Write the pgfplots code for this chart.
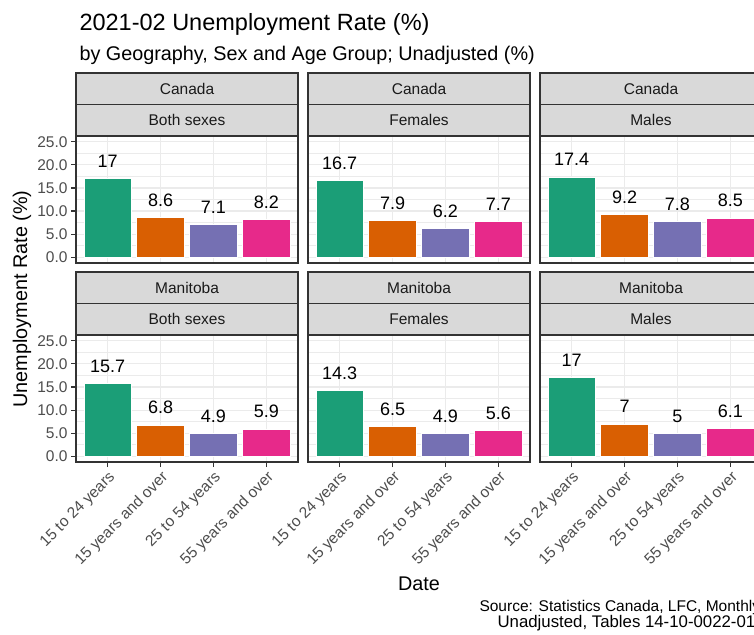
\documentclass[border=0pt]{standalone}
\usepackage{fontspec}
\setmainfont{Liberation Sans}
\usepackage{pgfplots}
\pgfplotsset{compat=1.18}
\usepackage{pgfplotstable}

\definecolor{gray10}{HTML}{1A1A1A}
\definecolor{gray20}{HTML}{333333}
\definecolor{gray30}{HTML}{4D4D4D}
\definecolor{gray85}{HTML}{D9D9D9}
\definecolor{gray92}{HTML}{EBEBEB}
\definecolor{dkA}{HTML}{1B9E77}
\definecolor{dkB}{HTML}{D95F02}
\definecolor{dkC}{HTML}{7570B3}
\definecolor{dkD}{HTML}{E7298A}

% age groups 1..4; columns: Canada/Manitoba x both/females/males
\pgfplotstableread{
age CB   CF   CM   MB   MF   MM
1   17   16.7 17.4 15.7 14.3 17
2   8.6  7.9  9.2  6.8  6.5  7
3   7.1  6.2  7.8  4.9  4.9  5
4   8.2  7.7  8.5  5.9  5.6  6.1
}\rates

\pgfplotsset{
  /pgf/number format/assume math mode=true,
  facet/.style={
    scale only axis, width=222pt, height=127pt,
    anchor=north west,
    xmin=0.4, xmax=4.6, ymin=-1.25, ymax=26.25,
    xtick={1,2,3,4}, ytick={0,5,...,25},
    minor ytick={2.5,7.5,...,22.5},
    xmajorgrids, ymajorgrids, yminorgrids,
    major grid style={gray92, line width=1.1pt},
    minor grid style={gray92, line width=0.55pt},
    axis line style={gray20, line width=1.1pt},
    tick align=outside, major tick length=5pt, minor tick length=0pt,
    tick style={gray20, line width=1.1pt},
    xtick pos=bottom, ytick pos=left,
    ticklabel style={font=\fontsize{15.5}{18}\selectfont, text=gray30},
    yticklabel style={/pgf/number format/.cd, fixed, fixed zerofill, precision=1},
    ybar, bar width=0.9, bar shift=0pt,
    nodes near coords,
    nodes near coords style={anchor=base, yshift=11pt, font=\fontsize{18}{20}\selectfont, text=black},
    clip=false,
  },
  toprow/.style={xmajorticks=false, xticklabel={}},
  bottomrow/.style={xticklabels={15 to 24 years, 15 years and over, 25 to 54 years, 55 years and over},
    x tick label style={rotate=45, anchor=north east, inner sep=2pt}},
  inner/.style={ymajorticks=false, yticklabel={}},
  bA/.style={fill=dkA, draw=white, line width=0.6pt, restrict x to domain=1:1},
  bB/.style={fill=dkB, draw=white, line width=0.6pt, restrict x to domain=2:2},
  bC/.style={fill=dkC, draw=white, line width=0.6pt, restrict x to domain=3:3},
  bD/.style={fill=dkD, draw=white, line width=0.6pt, restrict x to domain=4:4},
}

\newcommand\strips[3]{%
  \draw[gray20, fill=gray85, line width=1.1pt] (#1.north west) rectangle ([yshift=63pt]#1.north east);
  \draw[gray20, line width=1.1pt] ([yshift=31.5pt]#1.north west) -- ([yshift=31.5pt]#1.north east);
  \node[text=gray10, font=\fontsize{15.5}{18}\selectfont] at ([yshift=47.25pt]#1.north) {#2};
  \node[text=gray10, font=\fontsize{15.5}{18}\selectfont] at ([yshift=15.75pt]#1.north) {#3};
}

\begin{document}
\begin{tikzpicture}
\useasboundingbox (0,0) rectangle (754pt,-634pt);
\clip (0,0) rectangle (754pt,-634pt);

\node[anchor=base west, font=\fontsize{23.5}{26}\selectfont] at (76pt,-31pt) {2021-02 Unemployment Rate (\%)};
\node[anchor=base west, font=\fontsize{19.8}{22}\selectfont] at (76pt,-60pt) {by Geography, Sex and Age Group; Unadjusted (\%)};

\begin{axis}[facet, toprow, name=p11, at={(76pt,-136pt)}]
  \addplot[bA] table[x=age, y=CB] {\rates};
  \addplot[bB] table[x=age, y=CB] {\rates};
  \addplot[bC] table[x=age, y=CB] {\rates};
  \addplot[bD] table[x=age, y=CB] {\rates};
\end{axis}
\begin{axis}[facet, toprow, inner, name=p12, at={(308pt,-136pt)}]
  \addplot[bA] table[x=age, y=CF] {\rates};
  \addplot[bB] table[x=age, y=CF] {\rates};
  \addplot[bC] table[x=age, y=CF] {\rates};
  \addplot[bD] table[x=age, y=CF] {\rates};
\end{axis}
\begin{axis}[facet, toprow, inner, name=p13, at={(540pt,-136pt)}]
  \addplot[bA] table[x=age, y=CM] {\rates};
  \addplot[bB] table[x=age, y=CM] {\rates};
  \addplot[bC] table[x=age, y=CM] {\rates};
  \addplot[bD] table[x=age, y=CM] {\rates};
\end{axis}
\begin{axis}[facet, bottomrow, name=p21, at={(76pt,-335pt)}]
  \addplot[bA] table[x=age, y=MB] {\rates};
  \addplot[bB] table[x=age, y=MB] {\rates};
  \addplot[bC] table[x=age, y=MB] {\rates};
  \addplot[bD] table[x=age, y=MB] {\rates};
\end{axis}
\begin{axis}[facet, bottomrow, inner, name=p22, at={(308pt,-335pt)}]
  \addplot[bA] table[x=age, y=MF] {\rates};
  \addplot[bB] table[x=age, y=MF] {\rates};
  \addplot[bC] table[x=age, y=MF] {\rates};
  \addplot[bD] table[x=age, y=MF] {\rates};
\end{axis}
\begin{axis}[facet, bottomrow, inner, name=p23, at={(540pt,-335pt)}]
  \addplot[bA] table[x=age, y=MM] {\rates};
  \addplot[bB] table[x=age, y=MM] {\rates};
  \addplot[bC] table[x=age, y=MM] {\rates};
  \addplot[bD] table[x=age, y=MM] {\rates};
\end{axis}

\strips{p11}{Canada}{Both sexes}
\strips{p12}{Canada}{Females}
\strips{p13}{Canada}{Males}
\strips{p21}{Manitoba}{Both sexes}
\strips{p22}{Manitoba}{Females}
\strips{p23}{Manitoba}{Males}

\node[rotate=90, font=\fontsize{19.8}{22}\selectfont] at (22pt,-299pt) {Unemployment Rate (\%)};
\node[anchor=base, font=\fontsize{19.8}{22}\selectfont] at (419pt,-590pt) {Date};
\node[anchor=base west, font=\fontsize{15.5}{18}\selectfont] at (476pt,-611pt) {Source: Statistics Canada, LFC, Monthly};
\node[anchor=base west, font=\fontsize{16.8}{18}\selectfont] at (494pt,-627pt) {Unadjusted, Tables 14-10-0022-01};
\end{tikzpicture}
\end{document}
